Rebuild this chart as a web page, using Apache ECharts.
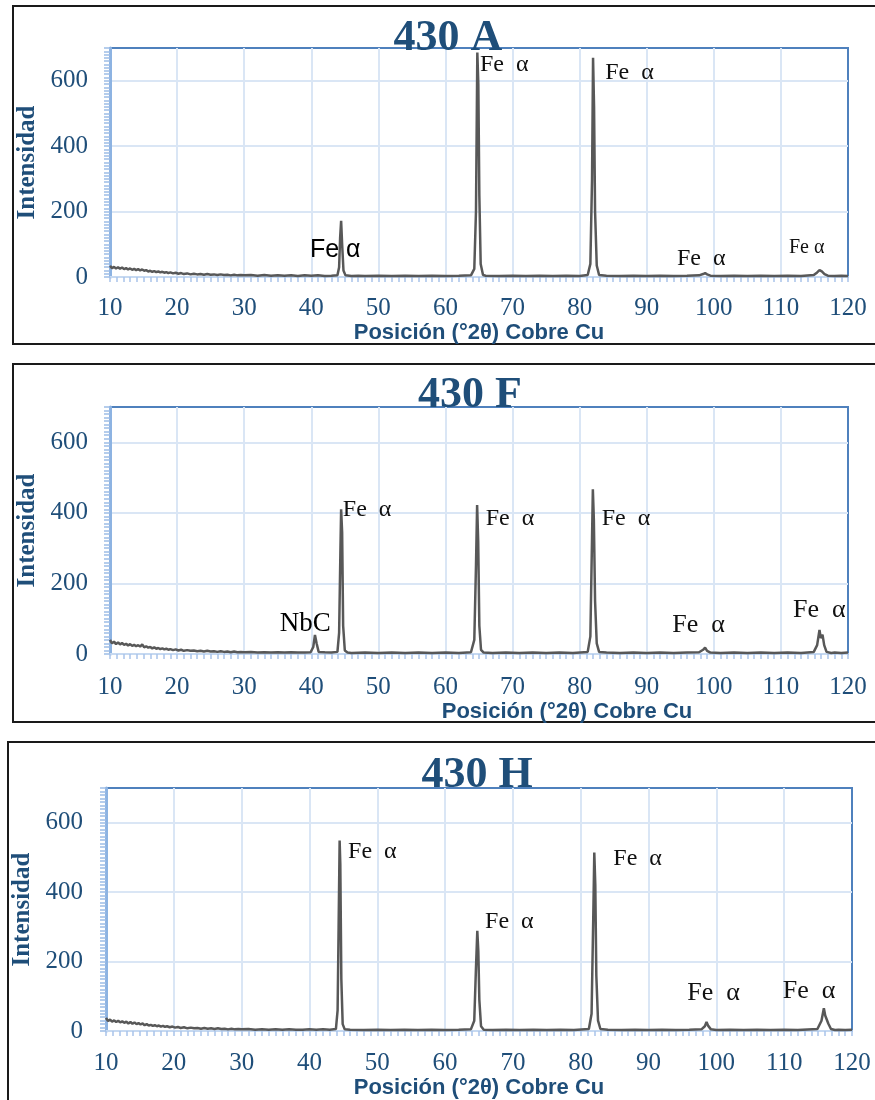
<!DOCTYPE html>
<html><head><meta charset="utf-8">
<script src="https://cdn.jsdelivr.net/npm/echarts@6/dist/echarts.min.js"></script>
<style>html,body{margin:0;padding:0;background:#fff}#c{width:875px;height:1100px}</style>
</head><body><div id="c"></div>
<script>
// ---------- DATA ----------
const panelTitles = ['430 A', '430 F', '430 H'];
const xAxisTitle = 'Posición (°2θ) Cobre Cu';
const yAxisTitle = 'Intensidad';
const xTickValues = [10, 20, 30, 40, 50, 60, 70, 80, 90, 100, 110, 120];
const yTickValues = [0, 200, 400, 600];

// [angle 2θ, intensity]
const scanA = [
[10,34],[10.3,27],[10.6,31],[10.9,26],[11.2,30],[11.5,25],[11.8,29],[12.1,24],[12.4,27],[12.7,23],
[13,26],[13.3,22],[13.6,25],[13.9,21],[14.2,24],[14.5,20],[14.8,23],[15.1,19],[15.4,21],[15.7,17],
[16,19],[16.3,16],[16.6,18],[16.9,15],[17.2,17],[17.5,14],[17.8,16],[18.1,13],[18.4,15],[18.7,12],
[19,14],[19.4,11],[19.8,13],[20.2,10],[20.6,12],[21,9],[21.5,11],[22,8],[22.5,10],[23,8],[23.5,9],
[24,7],[24.5,9],[25,7],[25.5,8],[26,6],[26.5,8],[27,6],[27.5,7],[28,5],[28.5,7],[29,5],[29.5,6],
[30,5],[31,6],[32,4],[33,6],[34,4],[35,5],[36,4],[37,5],[38,3],[39,5],[40,4],[41,5],[42,3],[43,4],
[43.9,5],[44.15,30],[44.3,120],[44.45,172],[44.6,100],[44.8,20],[45.1,5],[46,3],[47,4],[48,3],[50,4],
[52,3],[54,4],[56,3],[58,4],[60,3],[62,4],[63.8,5],[64.3,25],[64.55,200],[64.75,686],[64.9,590],
[65.05,250],[65.25,40],[65.6,6],[66,4],[68,3],[70,4],[72,3],[74,4],[76,3],[78,4],[80,3],[81.2,6],
[81.6,40],[81.85,300],[82.0,670],[82.15,520],[82.3,200],[82.55,35],[82.9,6],[84,4],[86,3],[88,4],
[90,3],[92,4],[94,3],[96,4],[97.8,5],[98.4,9],[98.7,12],[99.0,8],[99.5,4],[101,3],[103,4],[105,3],
[107,4],[109,3],[111,4],[113,3],[114.9,6],[115.4,14],[115.75,21],[116.1,17],[116.5,9],[117,4],
[118,3],[119,4],[120,3]
];
const scanF = [
[10,40],[10.3,30],[10.6,35],[10.9,28],[11.2,33],[11.5,27],[11.8,31],[12.1,26],[12.4,29],[12.7,24],
[13,28],[13.3,23],[13.6,26],[13.9,22],[14.2,25],[14.5,21],[14.8,27],[15.1,19],[15.4,22],[15.7,18],
[16,20],[16.3,16],[16.6,19],[16.9,15],[17.2,17],[17.5,14],[17.8,16],[18.1,13],[18.4,15],[18.7,12],
[19,14],[19.4,11],[19.8,13],[20.2,10],[20.6,12],[21,9],[21.5,11],[22,9],[22.5,10],[23,8],[23.5,9],
[24,7],[24.5,9],[25,7],[25.5,8],[26,6],[26.5,8],[27,6],[27.5,7],[28,5],[28.5,7],[29,5],[29.5,6],
[30,5],[31,6],[32,4],[33,5],[34,4],[35,5],[36,4],[37,5],[38,4],[39,4],[39.9,5],[40.3,20],[40.55,54],
[40.8,30],[41.1,6],[42,5],[43,4],[43.9,6],[44.15,60],[44.35,300],[44.45,410],[44.6,345],[44.75,80],
[45.0,10],[45.4,4],[46,3],[48,4],[50,3],[52,4],[54,3],[56,4],[58,3],[60,4],[62,3],[63.8,5],[64.3,40],
[64.55,250],[64.72,422],[64.88,320],[65.05,80],[65.3,12],[65.7,4],[67,3],[69,4],[71,3],[73,4],[75,3],
[77,4],[79,3],[81.2,6],[81.6,50],[81.85,330],[81.97,467],[82.12,380],[82.3,150],[82.55,30],[82.9,6],
[84,4],[86,3],[88,4],[90,3],[92,4],[94,3],[96,4],[97.8,5],[98.4,12],[98.7,18],[99.0,9],[99.5,4],
[101,3],[103,4],[105,3],[107,4],[109,3],[111,4],[113,3],[114.9,6],[115.4,25],[115.75,68],[115.95,45],
[116.2,55],[116.45,25],[116.8,6],[117.5,3],[118,4],[119,3],[120,4]
];
const scanH = [
[10,38],[10.3,29],[10.6,33],[10.9,27],[11.2,31],[11.5,26],[11.8,30],[12.1,25],[12.4,28],[12.7,24],
[13,27],[13.3,22],[13.6,26],[13.9,21],[14.2,25],[14.5,20],[14.8,23],[15.1,19],[15.4,22],[15.7,17],
[16,20],[16.3,16],[16.6,18],[16.9,15],[17.2,17],[17.5,14],[17.8,16],[18.1,13],[18.4,15],[18.7,12],
[19,14],[19.4,11],[19.8,13],[20.2,10],[20.6,12],[21,9],[21.5,11],[22,8],[22.5,10],[23,8],[23.5,9],
[24,7],[24.5,9],[25,7],[25.5,8],[26,6],[26.5,8],[27,6],[27.5,7],[28,5],[28.5,7],[29,5],[29.5,6],
[30,5],[31,6],[32,4],[33,5],[34,4],[35,5],[36,4],[37,5],[38,4],[39,4],[40,5],[41,4],[42,5],[43,4],
[43.9,6],[44.15,60],[44.3,300],[44.45,549],[44.55,480],[44.7,150],[44.9,20],[45.2,5],[46,4],[48,3],
[50,4],[52,3],[54,4],[56,3],[58,4],[60,3],[62,4],[63.8,5],[64.3,30],[64.55,180],[64.75,289],
[64.9,230],[65.05,90],[65.3,14],[65.7,4],[67,3],[69,4],[71,3],[73,4],[75,3],[77,4],[79,3],[81.2,6],
[81.6,50],[81.85,330],[82.0,514],[82.15,420],[82.3,160],[82.55,30],[82.9,6],[84,4],[86,3],[88,4],
[90,3],[92,4],[94,3],[96,4],[97.8,5],[98.3,14],[98.55,26],[98.8,15],[99.2,5],[100,3],[102,4],[104,3],
[106,4],[108,3],[110,4],[112,3],[114.9,6],[115.5,30],[115.85,66],[116.05,45],[116.25,50],[116.5,22],
[116.9,6],[117.5,3],[118,4],[119,3],[120,4]
];

// annotations: [angle, intensity, text]
const annA = [[39.8, 83, 'Fe α'], [65.15, 648, 'Fe  α'], [83.8, 624, 'Fe  α'], [94.5, 55, 'Fe  α'], [111.2, 89, 'Fe α']];
const annF = [[35.3, 85, 'NbC'], [44.7, 408, 'Fe  α'], [66.0, 383, 'Fe  α'], [83.3, 383, 'Fe  α'], [93.8, 82, 'Fe  α'], [111.8, 125, 'Fe  α']];
const annH = [[45.7, 517, 'Fe  α'], [65.9, 314, 'Fe  α'], [84.8, 497, 'Fe  α'], [95.7, 109, 'Fe  α'], [109.8, 114, 'Fe  α']];

// ---------- LAYOUT / STYLE ----------
const navy = '#1f4e79';
const scans = [scanA, scanF, scanH];
const anns = [annA, annF, annH];
const grids = [
  {left: 110, top: 48, width: 738, height: 229},
  {left: 110, top: 407, width: 738, height: 247},
  {left: 106, top: 788, width: 746, height: 245}
];
const xNameGap = [38, 40, 43];
const xNameShift = [0, 176, 0];
const xLabelMargin = [19, 21, 20];
const yNameGap = [68, 68, 71];
const yLabelMargin = [22, 22, 23];
const titlePos = [[448, 38.5], [470, 396], [477, 775.5]];
const frames = [
  {x: 13, y: 6, width: 880, height: 338},
  {x: 13, y: 364, width: 880, height: 358},
  {x: 8, y: 742, width: 880, height: 400}
];
function annStyle(p, i) {
  if (p === 0 && i === 0) return {fontFamily: 'Liberation Sans', fontSize: 25, color: '#000'};
  if (p === 0 && i === 4) return {fontFamily: 'Liberation Serif', fontSize: 20, color: '#111'};
  if (p === 1 && i === 0) return {fontFamily: 'Liberation Serif', fontSize: 27, color: '#000'};
  if ((p === 1 && i >= 4) || (p === 2 && i >= 3)) return {fontFamily: 'Liberation Serif', fontSize: 26, color: '#111'};
  return {fontFamily: 'Liberation Serif', fontSize: 24, color: '#111'};
}

const xAxes = [], yAxes = [], series = [];
grids.forEach((g, p) => {
  xAxes.push({
    type: 'value', gridIndex: p, min: 10, max: 120, interval: 10,
    name: xAxisTitle, nameLocation: 'middle', nameGap: xNameGap[p],
    nameTextStyle: {fontFamily: 'Liberation Sans', fontWeight: 'bold', fontSize: 22, color: navy,
      padding: [0, 0, 0, xNameShift[p]]},
    axisLine: {show: true, onZero: false, lineStyle: {color: '#c6d9f1', width: 2}},
    axisTick: {show: true, length: 5, lineStyle: {color: '#a9c4ea', width: 1.5}},
    minorTick: {show: true, splitNumber: 10, length: 5, lineStyle: {color: '#a9c4ea', width: 1.5}},
    axisLabel: {margin: xLabelMargin[p], fontFamily: 'Liberation Serif', fontSize: 25, color: navy,
      formatter: v => xTickValues.includes(v) ? String(v) : ''},
    splitLine: {show: true, showMinLine: false, showMaxLine: false, lineStyle: {color: '#dae6f5', width: 2}}
  });
  yAxes.push({
    type: 'value', gridIndex: p, min: 0, max: 700, interval: 200,
    name: yAxisTitle, nameLocation: 'middle', nameGap: yNameGap[p], nameRotate: 90,
    nameTextStyle: {fontFamily: 'Liberation Serif', fontWeight: 'bold', fontSize: 25, color: navy},
    axisLine: {show: false}, axisTick: {show: false},
    axisLabel: {margin: yLabelMargin[p], fontFamily: 'Liberation Serif', fontSize: 25, color: navy,
      showMaxLabel: false, formatter: v => yTickValues.includes(v) ? String(v) : ''},
    splitLine: {show: true, showMinLine: false, showMaxLine: false, lineStyle: {color: '#dae6f5', width: 2}}
  });
  yAxes.push({
    type: 'value', gridIndex: p, min: 0, max: 700, interval: 10, position: 'left',
    axisLine: {show: true, lineStyle: {color: '#8db3e2', width: 3}},
    axisTick: {show: true, length: 6, lineStyle: {color: '#9dbde6', width: 1.5}},
    axisLabel: {show: false}, splitLine: {show: false}
  });
  series.push({
    type: 'line', xAxisIndex: p, yAxisIndex: 2 * p, data: scans[p],
    showSymbol: false, symbol: 'none', smooth: false,
    lineStyle: {color: '#585858', width: 2.5}, z: 3,
    markPoint: {
      silent: true, symbol: 'circle', symbolSize: 0, animation: false,
      data: anns[p].map((a, i) => ({
        coord: [a[0], a[1]], value: a[2],
        label: Object.assign({show: true, position: 'inside', align: 'left', verticalAlign: 'middle',
          formatter: a[2]}, annStyle(p, i))
      }))
    }
  });
});

const graphic = [];
frames.forEach(f => graphic.push({type: 'rect', shape: f, z: -10, silent: true,
  style: {fill: 'none', stroke: '#1a1a1a', lineWidth: 2}}));
panelTitles.forEach((t, p) => graphic.push({type: 'text', x: titlePos[p][0], y: titlePos[p][1], z: 100, silent: true,
  style: {text: t, fontFamily: 'Liberation Serif', fontWeight: 'bold', fontSize: 44, fill: navy,
    align: 'center', verticalAlign: 'middle'}}));

const chart = echarts.init(document.getElementById('c'), null, {renderer: 'canvas'});
chart.setOption({
  animation: false,
  backgroundColor: '#ffffff',
  grid: grids.map(g => Object.assign({show: true, borderColor: '#4f81bd', borderWidth: 2, backgroundColor: 'transparent', containLabel: false}, g)),
  xAxis: xAxes, yAxis: yAxes, series: series, graphic: graphic
});
</script></body></html>
